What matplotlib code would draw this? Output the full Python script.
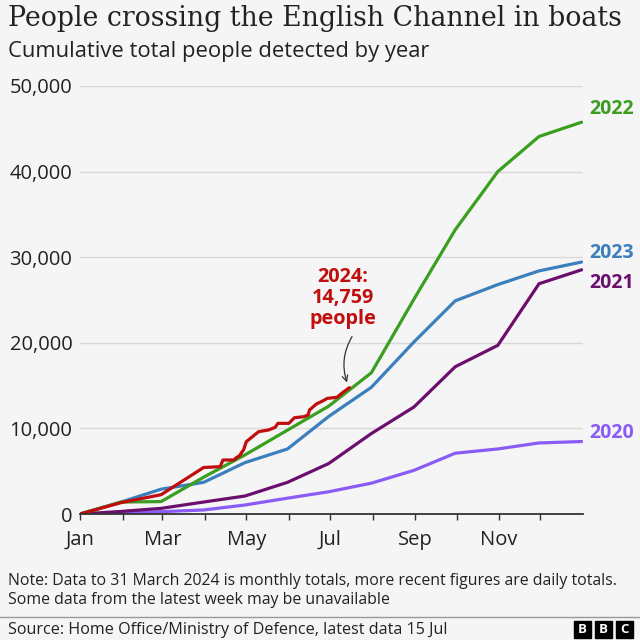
import matplotlib
matplotlib.use("Agg")
import matplotlib.pyplot as plt
import numpy as np
import pandas as pd
from matplotlib.patches import Rectangle

# ---------------- data ----------------
month_labels = ["Jan", "", "Mar", "", "May", "", "Jul", "", "Sep", "", "Nov", ""]
# cumulative totals at the end of each month (first value = 1 Jan)
year_2020 = [0, 100, 270, 470, 1050, 1850, 2600, 3600, 5100, 7100, 7600, 8300, 8466]
year_2021 = [0, 300, 660, 1400, 2100, 3700, 5900, 9400, 12500, 17200, 19700, 26900, 28526]
year_2022 = [0, 1400, 1450, 4300, 6900, 9800, 12600, 16500, 25100, 33200, 40000, 44100, 45774]
year_2023 = [0, 1400, 2900, 3700, 6000, 7600, 11400, 14800, 20100, 24900, 26800, 28400, 29437]

dates_2024 = ["2024-01-01", "2024-01-31", "2024-02-29", "2024-03-31", "2024-04-12",
              "2024-04-14", "2024-04-22", "2024-04-24", "2024-04-26", "2024-04-28",
              "2024-04-29", "2024-05-01", "2024-05-04", "2024-05-10", "2024-05-17",
              "2024-05-22", "2024-05-24", "2024-06-01", "2024-06-05", "2024-06-12",
              "2024-06-15", "2024-06-16", "2024-06-21", "2024-06-26", "2024-06-29",
              "2024-07-06", "2024-07-10", "2024-07-15"]
counts_2024 = [0, 1335, 2255, 5435, 5530,
               6310, 6310, 6620, 6780, 7280,
               7480, 8450, 8840, 9620, 9810,
               10120, 10590, 10590, 11250, 11370,
               11570, 12150, 12850, 13240, 13510,
               13630, 14170, 14759]

series_names = ["2020", "2021", "2023", "2022"]
series_values = [year_2020, year_2021, year_2023, year_2022]
colors = {"2020": "#8a5cf5", "2021": "#6b0f6e", "2022": "#3a9e1e",
          "2023": "#3b7fbd", "2024": "#c00d0d"}

# ---------------- layout ----------------
BG = "#f5f5f5"
W = H = 640
plt.rcParams["font.family"] = ["Open Sans", "DejaVu Sans"]
TXT = "#222222"

fig = plt.figure(figsize=(6.4, 6.4), dpi=100)
fig.patch.set_facecolor(BG)
ax = fig.add_axes([80 / W, 1 - 514 / H, (583 - 80) / W, (514 - 86) / H])
ax.set_facecolor(BG)

# x positions: day of year (0-based) in a 366-day frame
month_starts = (pd.date_range("2024-01-01", periods=12, freq="MS").dayofyear - 1).tolist()
month_ends = [0] + (pd.date_range("2024-01-31", periods=12, freq="ME").dayofyear - 1).tolist()
x_2024 = (pd.to_datetime(dates_2024).dayofyear - 1).tolist()

for name, vals in zip(series_names, series_values):
    ax.plot(month_ends, vals, color=colors[name], lw=2.3, solid_joinstyle="round",
            solid_capstyle="round", zorder=3)
ax.plot(x_2024, counts_2024, color=colors["2024"], lw=2.3, solid_joinstyle="round",
        solid_capstyle="round", zorder=4)

ax.set_xlim(0, 366)
ax.set_ylim(0, 50000)
yt = [0, 10000, 20000, 30000, 40000, 50000]
ax.set_yticks(yt)
ax.set_yticklabels([f"{v:,}" for v in yt])
ax.yaxis.grid(True, color="#d8d8d8", lw=1)
ax.set_axisbelow(True)
ax.tick_params(axis="y", length=0, pad=5.5, labelsize=14.5, labelcolor=TXT)

ax.set_xticks(month_starts)
ax.set_xticklabels(month_labels)
ax.tick_params(axis="x", length=4.5, width=1, color="#333333", pad=7,
               labelsize=14.5, labelcolor=TXT)

for s in ["top", "right", "left"]:
    ax.spines[s].set_visible(False)
ax.spines["bottom"].set_color("#333333")
ax.spines["bottom"].set_linewidth(1.3)
ax.spines["bottom"].set_zorder(5)

# year labels at right
label_pos = {"2022": 109, "2023": 253, "2021": 283, "2020": 433}
for name, ypix in label_pos.items():
    fig.text(589 / W, 1 - ypix / H, name, color=colors[name], fontsize=14,
             fontweight="bold", ha="left", va="center")

# 2024 annotation
ax.annotate("", xy=(x_2024[-1] - 1, counts_2024[-1] + 300),
            xytext=(x_2024[-1] + 3, 21000),
            arrowprops=dict(arrowstyle="->", color="#333333", lw=0.9,
                            connectionstyle="arc3,rad=0.25"), zorder=6)
fig.text(343 / W, 1 - 298 / H, "2024:\n14,759\npeople", color=colors["2024"],
         fontsize=14.3, fontweight="bold", ha="center", va="center", linespacing=1.08)

# titles
fig.text(8 / W, 1 - 18 / H, "People crossing the English Channel in boats",
         family=["DejaVu Serif"], fontsize=19.3, color=TXT, ha="left", va="center")
fig.text(8 / W, 1 - 51 / H, "Cumulative total people detected by year",
         fontsize=15.8, color=TXT, ha="left", va="center")

# notes
fig.text(8 / W, 1 - 581 / H,
         "Note: Data to 31 March 2024 is monthly totals, more recent figures are daily totals.",
         fontsize=11.4, color=TXT, ha="left", va="center")
fig.text(8 / W, 1 - 600 / H, "Some data from the latest week may be unavailable",
         fontsize=11.4, color=TXT, ha="left", va="center")
fig.add_artist(plt.Line2D([0, 1], [1 - 617 / H, 1 - 617 / H], color="#999999", lw=1,
                          transform=fig.transFigure))
fig.text(8 / W, 1 - 630 / H, "Source: Home Office/Ministry of Defence, latest data 15 Jul",
         fontsize=11.6, color=TXT, ha="left", va="center")

# BBC blocks
for i, letter in enumerate("BBC"):
    x0 = 574 + i * 21
    fig.add_artist(Rectangle((x0 / W, 1 - 638 / H), 17 / W, 17 / H, color="black",
                             transform=fig.transFigure))
    fig.text((x0 + 8.5) / W, 1 - 629.5 / H, letter, color="white", fontsize=9.5,
             fontweight="bold", ha="center", va="center")

fig.savefig("out.png", dpi=100, facecolor=BG)
